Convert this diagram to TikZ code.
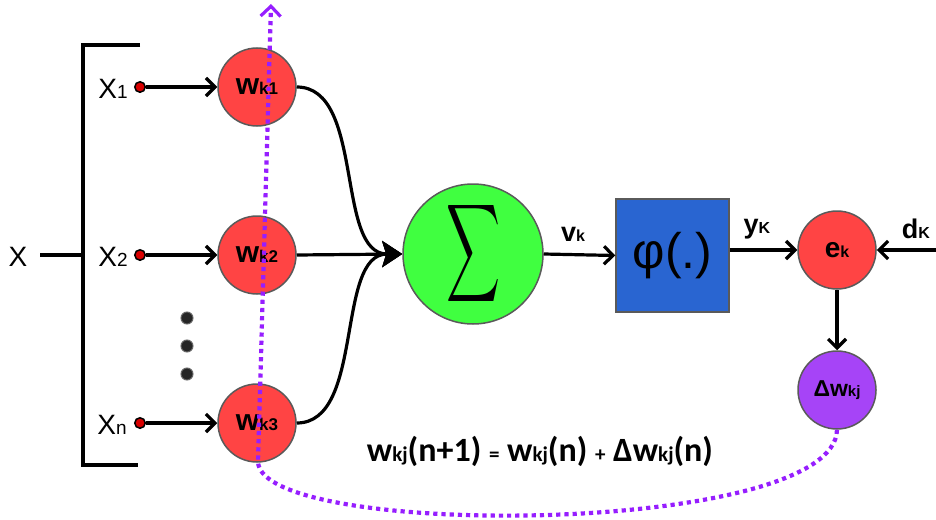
\documentclass[tikz,border=0pt]{standalone}
\usepackage{fontspec}
\usepackage{graphicx}
\setmainfont{Liberation Sans}
\newfontfamily\carl{Carlito}
\usetikzlibrary{arrows.meta}
\definecolor{nred}{RGB}{255,68,68}
\definecolor{ngreen}{RGB}{64,255,64}
\definecolor{nblue}{RGB}{41,101,209}
\definecolor{npurple}{RGB}{166,68,247}
\definecolor{dotpurple}{RGB}{150,30,255}
\definecolor{rim}{RGB}{90,90,90}
\newcommand{\fs}[1]{\fontsize{#1}{#1}\selectfont}
\begin{document}
\begin{tikzpicture}[x=1pt,y=-1pt,
  wnode/.style={circle, draw=rim, line width=1.5pt, fill=nred, minimum size=78pt, inner sep=0pt, font=\bfseries\fs{30}},
  indot/.style={circle, draw=black, line width=1.5pt, fill=red!85!black, minimum size=10.5pt, inner sep=0pt},
  vdot/.style={circle, fill=black!85, draw=black!60, line width=1pt, minimum size=12pt, inner sep=0pt},
  lbl/.style={font=\fs{28}, inner sep=0pt},
  blbl/.style={font=\bfseries\fs{27}, inner sep=0pt},
  conn/.style={line width=3.2pt, -{Straight Barb[length=9pt,width=18pt,line width=3.2pt]}},
  plain/.style={line width=3.2pt},
  feed/.style={line width=3.2pt, -{Stealth[length=20pt,width=26pt,inset=4pt]}},
  dotline/.style={draw=dotpurple, line width=4.2pt, dash pattern=on 4.2pt off 4pt, -{Straight Barb[length=10pt,width=20pt,line width=3.2pt]}}
]
\useasboundingbox (0,0) rectangle (936,519);

% bracket
\coordinate (bt) at (140,45);
\coordinate (btl) at (83,45);
\coordinate (bbl) at (83,465);
\coordinate (bb) at (138,465);
\coordinate (bmid) at (83,255);
\draw[plain] (bt) -- (btl) -- (bbl) -- (bb);
\node[lbl] (X) at (18,257) {X};
\draw[plain] (40,255) -- (bmid);

% weight nodes
\node[wnode] (w1) at (257,87) {w{\fs{17}k1}};
\node[wnode] (w2) at (257,255) {w{\fs{17}k2}};
\node[wnode] (w3) at (257,423) {w{\fs{17}k3}};

% inputs
\node[lbl] (x1) at (113,89) {X{\fs{19}1}};
\node[lbl] (x2) at (113,257) {X{\fs{19}2}};
\node[lbl] (xn) at (112,425) {X{\fs{19}n}};
\node[indot] (d1) at (140,87) {};
\node[indot] (d2) at (140,255) {};
\node[indot] (dn) at (140,423) {};
\draw[conn] (d1) -- (w1);
\draw[conn] (d2) -- (w2);
\draw[conn] (dn) -- (w3);

% vertical dots
\node[vdot] (v1) at (187,318) {};
\node[vdot] (v2) at (187,346) {};
\node[vdot] (v3) at (187,374) {};

% sum
\node[circle, draw=rim, line width=1.5pt, fill=ngreen, minimum size=140pt, inner sep=0pt] (sg) at (473,254) {\resizebox{54pt}{72pt}{$\displaystyle\sum$}};
\draw[feed] (w1.east) .. controls (365,87) and (335,254) .. (sg.west);
\draw[feed] (w3.east) .. controls (365,423) and (335,254) .. (sg.west);
\draw[feed] (w2.east) -- (sg.west);

% activation
\node[draw=rim, line width=1.5pt, fill=nblue, minimum size=113pt, inner sep=0pt, font=\fs{50}] (phi) at (672.5,255.5) {φ(.)};
\draw[conn] (sg.east) -- (phi.west);
\node[blbl] (vk) at (573,234) {v{\fs{16}k}};

% error
\node[wnode, font=\bfseries\fs{28}] (ek) at (837,250) {e{\fs{16}k}};
\node[wnode, fill=npurple, font=\bfseries\fs{23}] (dw) at (837,390) {Δw{\fs{15}kj}};
\coordinate (dkin) at (936,250);
\draw[conn] (phi.east |- ek.west) -- (ek.west);
\draw[conn] (dkin) -- (ek.east);
\draw[conn] (ek.south) -- (dw.north);
\node[blbl] (yk) at (757,229) {y{\fs{16}K}};
\node[blbl] (dk) at (916,229) {d{\fs{16}K}};

% update equation
\node[font=\carl\bfseries\fs{34}, inner sep=0pt] (eq) at (540,451) {w{\fs{21}kj}(n+1) {\fs{21}=} w{\fs{21}kj}(n) {\fs{21}+} Δw{\fs{21}kj}(n)};

% feedback dotted path
\coordinate (top) at (271,4);
\draw[dotline] (dw.south) .. controls (835,536) and (262,540) .. (258,462) -- (top);
\end{tikzpicture}
\end{document}
